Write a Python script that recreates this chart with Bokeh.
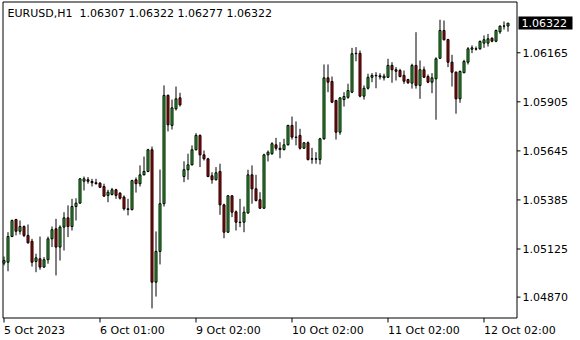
from bokeh.plotting import figure
from bokeh.models import ColumnDataSource, Range1d
from bokeh.core.properties import value
from bokeh.embed import file_html
from bokeh.resources import INLINE

# EURUSD H1 candles
opens = [
    1.05050, 1.05055, 1.05191, 1.05281, 1.05219, 1.05244, 1.05197, 1.05166, 1.05059, 1.05073,
    1.05029, 1.05068, 1.05179, 1.05232, 1.05135, 1.05241, 1.05290, 1.05244, 1.05350, 1.05368,
    1.05484, 1.05492, 1.05483, 1.05476, 1.05474, 1.05456, 1.05409, 1.05414, 1.05439, 1.05421,
    1.05400, 1.05338, 1.05334, 1.05492, 1.05471, 1.05518, 1.05536, 1.05651, 1.04949, 1.05112,
    1.05365, 1.05939, 1.05780, 1.05868, 1.05926, 1.05509, 1.05545, 1.05571, 1.05651, 1.05727,
    1.05624, 1.05603, 1.05513, 1.05492, 1.05536, 1.05359, 1.05214, 1.05407, 1.05322, 1.05267,
    1.05267, 1.05316, 1.05518, 1.05444, 1.05386, 1.05341, 1.05624, 1.05630, 1.05677, 1.05659,
    1.05652, 1.05677, 1.05780, 1.05718, 1.05727, 1.05659, 1.05688, 1.05603, 1.05601, 1.05599,
    1.05709, 1.06032, 1.06013, 1.05912, 1.05744, 1.05917, 1.05929, 1.05956, 1.06160, 1.06162,
    1.05935, 1.05977, 1.06035, 1.06045, 1.06043, 1.06032, 1.06035, 1.06098, 1.06075, 1.06071,
    1.06045, 1.06023, 1.06004, 1.06098, 1.05992, 1.06075, 1.06039, 1.06009, 1.06027, 1.06136,
    1.06283, 1.06235, 1.06115, 1.06062, 1.05921, 1.06059, 1.06115, 1.06184, 1.06186, 1.06186,
    1.06216, 1.06216, 1.06242, 1.06226, 1.06276, 1.06306, 1.06307,
]
highs = [
    1.05085, 1.05214, 1.05281, 1.05285, 1.05276, 1.05250, 1.05255, 1.05179, 1.05100, 1.05191,
    1.05082, 1.05191, 1.05244, 1.05285, 1.05250, 1.05320, 1.05356, 1.05391, 1.05394, 1.05500,
    1.05509, 1.05506, 1.05497, 1.05497, 1.05479, 1.05471, 1.05439, 1.05449, 1.05444, 1.05426,
    1.05409, 1.05391, 1.05492, 1.05504, 1.05568, 1.05615, 1.05656, 1.05668, 1.05218, 1.05546,
    1.05992, 1.05944, 1.05917, 1.05986, 1.05953, 1.05590, 1.05630, 1.05674, 1.05739, 1.05732,
    1.05647, 1.05608, 1.05532, 1.05559, 1.05577, 1.05365, 1.05410, 1.05409, 1.05329, 1.05391,
    1.05350, 1.05545, 1.05568, 1.05518, 1.05426, 1.05630, 1.05647, 1.05691, 1.05714, 1.05691,
    1.05709, 1.05783, 1.05827, 1.05801, 1.05762, 1.05691, 1.05695, 1.05661, 1.05638, 1.05714,
    1.06103, 1.06103, 1.06039, 1.05916, 1.05929, 1.05956, 1.06001, 1.06191, 1.06195, 1.06177,
    1.05992, 1.06054, 1.06057, 1.06062, 1.06057, 1.06054, 1.06133, 1.06115, 1.06089, 1.06080,
    1.06071, 1.06027, 1.06107, 1.06274, 1.06124, 1.06092, 1.06050, 1.06057, 1.06141, 1.06340,
    1.06336, 1.06239, 1.06154, 1.06066, 1.06071, 1.06128, 1.06195, 1.06204, 1.06198, 1.06230,
    1.06257, 1.06265, 1.06247, 1.06288, 1.06310, 1.06331, 1.06322,
]
lows = [
    1.05038, 1.05007, 1.05188, 1.05197, 1.05202, 1.05188, 1.05153, 1.05032, 1.05002, 1.05015,
    1.05025, 1.05047, 1.05135, 1.04985, 1.05064, 1.05117, 1.05188, 1.05223, 1.05276, 1.05365,
    1.05435, 1.05471, 1.05456, 1.05467, 1.05449, 1.05403, 1.05373, 1.05409, 1.05391, 1.05387,
    1.05329, 1.05303, 1.05329, 1.05424, 1.05456, 1.05515, 1.05532, 1.04810, 1.04873, 1.05043,
    1.05350, 1.05748, 1.05758, 1.05859, 1.05880, 1.05479, 1.05492, 1.05568, 1.05647, 1.05559,
    1.05594, 1.05506, 1.05471, 1.05488, 1.05306, 1.05182, 1.05211, 1.05294, 1.05223, 1.05241,
    1.05214, 1.05311, 1.05365, 1.05377, 1.05338, 1.05338, 1.05589, 1.05624, 1.05647, 1.05606,
    1.05647, 1.05674, 1.05705, 1.05674, 1.05652, 1.05656, 1.05594, 1.05577, 1.05577, 1.05573,
    1.05704, 1.05956, 1.05898, 1.05705, 1.05730, 1.05880, 1.05921, 1.05951, 1.06120, 1.05929,
    1.05917, 1.05970, 1.06009, 1.05977, 1.06023, 1.06018, 1.06032, 1.06006, 1.06018, 1.06035,
    1.06000, 1.06000, 1.05975, 1.05975, 1.05921, 1.06032, 1.06004, 1.05951, 1.05810, 1.06133,
    1.06230, 1.06089, 1.05986, 1.05842, 1.05900, 1.06057, 1.06103, 1.06163, 1.06177, 1.06181,
    1.06191, 1.06198, 1.06221, 1.06221, 1.06265, 1.06288, 1.06277,
]
closes = [
    1.05064, 1.05191, 1.05276, 1.05219, 1.05244, 1.05197, 1.05158, 1.05055, 1.05078, 1.05029,
    1.05068, 1.05179, 1.05227, 1.05135, 1.05241, 1.05290, 1.05244, 1.05350, 1.05368, 1.05497,
    1.05497, 1.05484, 1.05476, 1.05471, 1.05452, 1.05405, 1.05426, 1.05439, 1.05409, 1.05394,
    1.05338, 1.05334, 1.05488, 1.05471, 1.05518, 1.05536, 1.05651, 1.04949, 1.05112, 1.05365,
    1.05939, 1.05783, 1.05873, 1.05921, 1.05889, 1.05545, 1.05571, 1.05651, 1.05727, 1.05624,
    1.05603, 1.05509, 1.05492, 1.05529, 1.05359, 1.05214, 1.05407, 1.05320, 1.05267, 1.05265,
    1.05320, 1.05518, 1.05444, 1.05382, 1.05341, 1.05624, 1.05638, 1.05683, 1.05659, 1.05652,
    1.05677, 1.05780, 1.05718, 1.05716, 1.05659, 1.05688, 1.05599, 1.05601, 1.05603, 1.05709,
    1.06032, 1.06009, 1.05903, 1.05744, 1.05926, 1.05933, 1.05965, 1.06160, 1.06162, 1.05935,
    1.05977, 1.06035, 1.06045, 1.06043, 1.06037, 1.06041, 1.06098, 1.06075, 1.06067, 1.06039,
    1.06014, 1.06006, 1.06098, 1.05992, 1.06075, 1.06035, 1.06009, 1.06032, 1.06133, 1.06283,
    1.06234, 1.06115, 1.06062, 1.05921, 1.06066, 1.06119, 1.06186, 1.06191, 1.06184, 1.06225,
    1.06234, 1.06239, 1.06226, 1.06283, 1.06306, 1.06307, 1.06322,
]

x_tick_bars = [0, 24, 48, 72, 96, 120]
x_tick_labels = ["5 Oct 2023", "6 Oct 01:00", "9 Oct 02:00", "10 Oct 02:00", "11 Oct 02:00", "12 Oct 02:00"]
y_ticks = [1.04870, 1.05125, 1.05385, 1.05645, 1.05905, 1.06165]
symbol_text = "EURUSD,H1"
ohlc_text = "1.06307 1.06322 1.06277 1.06322"
last_price = 1.06322

BULL = "#20D020"
BEAR = "#E00000"
FONT = "DejaVu Sans"
FS = "11px"

# ---- layout: the plot frame fills the canvas; chart scale = 4 px per bar, 0.000053 per px
W, H = 580, 340
PX_PER_BAR = 4.0
PRICE_PER_PX = 0.000053
X0 = -3.5 / PX_PER_BAR          # data x at the canvas left edge
Y0 = 1.06442                    # price at the canvas top edge


def X(px):   # canvas pixel -> data x
    return X0 + px / PX_PER_BAR


def Y(py):   # canvas pixel -> price
    return Y0 - py * PRICE_PER_PX


CHART_L, CHART_R, CHART_T, CHART_B = 2.5, 516.5, 1.5, 317.5

idx = list(range(len(opens)))
src = ColumnDataSource(dict(
    x=idx, open=opens, high=highs, low=lows, close=closes,
    top=[max(o, c) for o, c in zip(opens, closes)],
    bottom=[min(o, c) for o, c in zip(opens, closes)],
    color=[BULL if c >= o else BEAR for o, c in zip(opens, closes)],
))

p = figure(width=W, height=H,
           x_range=Range1d(X(0), X(W)), y_range=Range1d(Y(H), Y(0)),
           x_axis_location=None, y_axis_location=None,
           output_backend="svg", toolbar_location=None,
           min_border=0, min_border_left=0, min_border_right=0, min_border_top=0, min_border_bottom=0,
           background_fill_color="white", border_fill_color="white", outline_line_color=None)
p.grid.visible = False

# chart border
p.quad(left=[X(CHART_L)], right=[X(CHART_R)], top=[Y(CHART_T)], bottom=[Y(CHART_B)],
       fill_color=None, line_color="black", line_width=1)

# candles
p.segment(x0="x", y0="high", x1="x", y1="low", source=src, line_color="black", line_width=1)
p.vbar(x="x", width=0.5, top="top", bottom="bottom", source=src,
       fill_color="color", line_color="black", line_width=1)

# price scale (right)
p.segment(x0=[X(CHART_R)] * len(y_ticks), x1=[X(CHART_R + 3.5)] * len(y_ticks),
          y0=y_ticks, y1=y_ticks, line_color="black", line_width=1)
p.text(x=[X(522)] * len(y_ticks), y=y_ticks, text=[f"{v:.5f}" for v in y_ticks],
       text_font=value(FONT), text_font_size=value(FS), text_color="black",
       text_baseline="middle", text_align="left")

# current price tag
p.quad(left=[X(518)], right=[X(572)], top=[Y(16)], bottom=[Y(29)],
       fill_color="black", line_color=None)
p.text(x=[X(521)], y=[last_price], text=[f"{last_price:.5f}"],
       text_font=value(FONT), text_font_size=value(FS), text_color="white",
       text_baseline="middle", text_align="left")

# time scale (bottom)
p.segment(x0=x_tick_bars, x1=x_tick_bars, y0=[Y(CHART_B)] * len(x_tick_bars),
          y1=[Y(CHART_B + 4.5)] * len(x_tick_bars), line_color="black", line_width=1)
p.text(x=x_tick_bars, y=[Y(330)] * len(x_tick_bars), text=x_tick_labels,
       text_font=value(FONT), text_font_size=value(FS), text_color="black",
       text_baseline="middle", text_align="left")

# header
p.text(x=[X(7), X(79)], y=[Y(13), Y(13)], text=[symbol_text, ohlc_text],
       text_font=value(FONT), text_font_size=value(FS), text_color="black",
       text_baseline="middle", text_align="left")

open("out.html", "w").write(file_html(p, INLINE))
